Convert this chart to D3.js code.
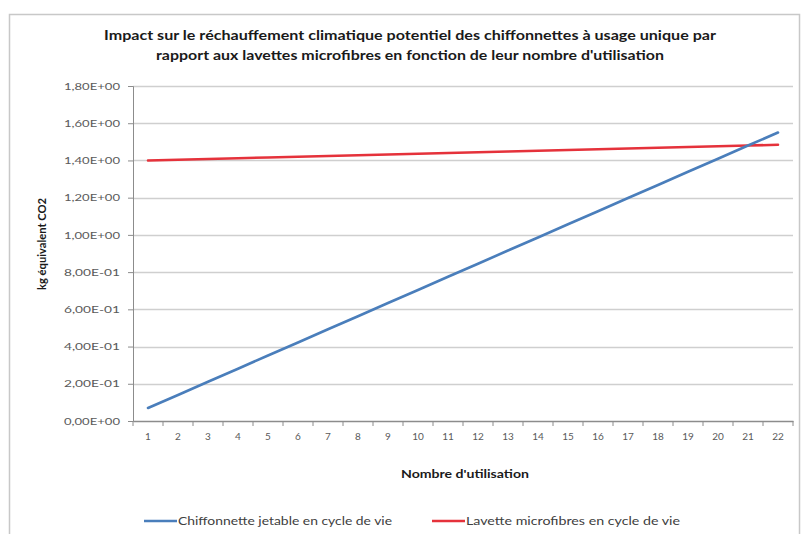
<!DOCTYPE html>
<html>
<head>
<meta charset="utf-8">
<script src="https://cdn.jsdelivr.net/npm/d3@7"></script>
<style>
  html, body { margin: 0; padding: 0; background: #fff; }
  svg { display: block; }
</style>
</head>
<body>
<svg id="chart" width="801" height="534"></svg>
<script>
// Number of uses (x categories)
const uses = d3.range(1, 23);

// kg CO2 equivalent per series
const chiffonnette = [0.070, 0.140, 0.211, 0.281, 0.352, 0.422, 0.493, 0.563, 0.634, 0.704, 0.775,
                      0.845, 0.916, 0.986, 1.057, 1.127, 1.198, 1.268, 1.339, 1.409, 1.480, 1.550];
const lavette = [1.400, 1.404, 1.408, 1.412, 1.416, 1.420, 1.424, 1.428, 1.432, 1.436, 1.440,
                 1.444, 1.448, 1.452, 1.456, 1.460, 1.464, 1.468, 1.472, 1.476, 1.480, 1.484];

const yTicks = [0, 0.2, 0.4, 0.6, 0.8, 1.0, 1.2, 1.4, 1.6, 1.8];
const yTickLabels = ["0,00E+00", "2,00E-01", "4,00E-01", "6,00E-01", "8,00E-01",
                     "1,00E+00", "1,20E+00", "1,40E+00", "1,60E+00", "1,80E+00"];

const seriesNames = ["Chiffonnette jetable en cycle de vie", "Lavette microfibres en cycle de vie"];
const seriesColors = ["#4a7ebb", "#e5323b"];

const titleLines = [
  "Impact sur le réchauffement climatique potentiel des chiffonnettes à usage unique par",
  "rapport aux lavettes microfibres en fonction de leur nombre d'utilisation"
];
const titleWidths = [612, 508];

const svg = d3.select("#chart");
const font = "Lato, 'Open Sans', sans-serif";

// outer chart frame
svg.append("rect")
  .attr("x", 9.5).attr("y", 14.5).attr("width", 790).attr("height", 530)
  .attr("fill", "#fff").attr("stroke", "#c8c8c8").attr("stroke-width", 1.5);

const plot = { left: 133, right: 793, top: 86, bottom: 421 };

const x = d3.scaleBand().domain(uses).range([plot.left, plot.right]);
const y = d3.scaleLinear().domain([0, 1.8]).range([plot.bottom, plot.top]);

// gridlines
svg.append("g")
  .selectAll("line").data(yTicks.slice(1)).join("line")
  .attr("x1", plot.left).attr("x2", plot.right)
  .attr("y1", d => Math.round(y(d)) + 0.5).attr("y2", d => Math.round(y(d)) + 0.5)
  .attr("stroke", "#cfcfcf").attr("stroke-width", 1.3);

// y axis
const yAxis = svg.append("g")
  .attr("transform", `translate(${plot.left},0)`)
  .call(d3.axisLeft(y).tickValues(yTicks).tickSize(5).tickPadding(8)
        .tickFormat((d, i) => yTickLabels[i]));
yAxis.select(".domain").attr("stroke", "#8c8c8c");
yAxis.selectAll(".tick line").attr("stroke", "#8c8c8c");
yAxis.selectAll(".tick text")
  .attr("font-family", font).attr("font-size", 10).attr("fill", "#5a5a5a")
  .attr("textLength", 56).attr("lengthAdjust", "spacingAndGlyphs");

// x axis with ticks between categories
const xAxis = svg.append("g")
  .attr("transform", `translate(0,${plot.bottom})`)
  .call(d3.axisBottom(x).tickSize(0).tickPadding(12));
xAxis.select(".domain").attr("stroke", "#8c8c8c").attr("stroke-width", 1.5);
xAxis.selectAll(".tick text")
  .attr("font-family", font).attr("font-size", 10).attr("fill", "#5a5a5a");
xAxis.selectAll("line.sep").data(uses.concat([23])).join("line")
  .attr("class", "sep")
  .attr("x1", d => (d <= 22 ? x(d) : plot.right))
  .attr("x2", d => (d <= 22 ? x(d) : plot.right))
  .attr("y1", 0).attr("y2", 5)
  .attr("stroke", "#8c8c8c");

// series lines
const line = d3.line()
  .x((d, i) => x(uses[i]) + x.bandwidth() / 2)
  .y(d => y(d));

[[lavette, 1], [chiffonnette, 0]].forEach(([vals, idx]) => {
  svg.append("path")
    .datum(vals)
    .attr("d", line)
    .attr("fill", "none")
    .attr("stroke", seriesColors[idx])
    .attr("stroke-width", 2.6)
    .attr("stroke-linecap", "round");
});

// title
svg.append("g").selectAll("text").data(titleLines).join("text")
  .attr("x", 410).attr("y", (d, i) => 40 + i * 20)
  .attr("text-anchor", "middle")
  .attr("font-family", font).attr("font-weight", "bold").attr("font-size", 12.5)
  .attr("fill", "#1a1a1a")
  .attr("textLength", (d, i) => titleWidths[i]).attr("lengthAdjust", "spacingAndGlyphs")
  .text(d => d);

// axis titles
svg.append("text")
  .attr("transform", "translate(46,244) rotate(-90)")
  .attr("text-anchor", "middle")
  .attr("font-family", font).attr("font-weight", "bold").attr("font-size", 10.5)
  .attr("fill", "#1a1a1a")
  .attr("textLength", 92).attr("lengthAdjust", "spacingAndGlyphs")
  .text("kg équivalent CO2");

svg.append("text")
  .attr("x", 465).attr("y", 478)
  .attr("text-anchor", "middle")
  .attr("font-family", font).attr("font-weight", "bold").attr("font-size", 10.5)
  .attr("fill", "#1a1a1a")
  .attr("textLength", 128).attr("lengthAdjust", "spacingAndGlyphs")
  .text("Nombre d'utilisation");

// legend
const legendX = [144, 432];
const legendWidths = [214, 214];
const legend = svg.append("g").selectAll("g").data(seriesNames).join("g")
  .attr("transform", (d, i) => `translate(${legendX[i]},521)`);
legend.append("line")
  .attr("x1", 0).attr("x2", 33).attr("y1", 0).attr("y2", 0)
  .attr("stroke", (d, i) => seriesColors[i]).attr("stroke-width", 2.6);
legend.append("text")
  .attr("x", 34).attr("y", 4)
  .attr("font-family", font).attr("font-size", 10.5).attr("fill", "#404040")
  .attr("textLength", (d, i) => legendWidths[i]).attr("lengthAdjust", "spacingAndGlyphs")
  .text(d => d);
</script>
</body>
</html>
